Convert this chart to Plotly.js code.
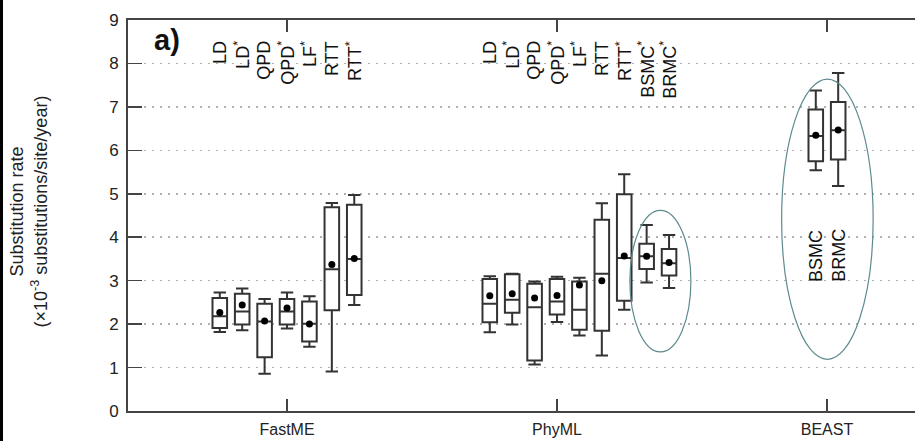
<!DOCTYPE html>
<html>
<head>
<meta charset="utf-8">
<script src="https://cdn.plot.ly/plotly-3.0.1.min.js"></script>
<style>
  html, body { margin: 0; padding: 0; background: #fff; }
  #wrap { position: relative; width: 915px; height: 441px; }
  #chart { width: 915px; height: 441px; }
  #edge { position: absolute; left: 0; top: 0; width: 3px; height: 441px; background: #000; }
</style>
</head>
<body>
<div id="wrap"><div id="chart"></div><div id="edge"></div></div>
<script>
// ---- Data (substitution rate, x10^-3 substitutions/site/year) ----
const groups = ["FastME", "PhyML", "BEAST"];

const fastmeMethods = ["LD", "LD*", "QPD", "QPD*", "LF*", "RTT", "RTT*"];
const fastmeLower  = [1.82, 1.86, 0.86, 1.90, 1.48, 0.91, 2.44];
const fastmeQ1     = [1.91, 1.99, 1.24, 1.99, 1.60, 2.32, 2.67];
const fastmeMedian = [2.18, 2.29, 2.06, 2.29, 2.01, 3.26, 3.50];
const fastmeQ3     = [2.60, 2.70, 2.47, 2.58, 2.52, 4.69, 4.75];
const fastmeUpper  = [2.73, 2.82, 2.58, 2.73, 2.64, 4.79, 4.97];
const fastmeMean   = [2.27, 2.44, 2.07, 2.37, 2.00, 3.37, 3.51];

const phymlMethods = ["LD", "LD*", "QPD", "QPD*", "LF*", "RTT", "RTT*", "BSMC*", "BRMC*"];
const phymlLower  = [1.81, 1.99, 1.07, 2.05, 1.74, 1.28, 2.33, 2.96, 2.83];
const phymlQ1     = [2.04, 2.26, 1.16, 2.22, 1.87, 1.85, 2.54, 3.27, 3.12];
const phymlMedian = [2.47, 2.56, 2.39, 2.52, 2.33, 3.16, 3.52, 3.56, 3.40];
const phymlQ3     = [3.04, 3.15, 2.93, 3.04, 2.98, 4.40, 4.99, 3.85, 3.73];
const phymlUpper  = [3.10, 3.16, 2.98, 3.09, 3.07, 4.78, 5.45, 4.28, 4.05];
const phymlMean   = [2.65, 2.70, 2.60, 2.66, 2.90, 3.00, 3.57, 3.56, 3.42];

const beastMethods = ["BSMC", "BRMC"];
const beastLower  = [5.54, 5.18];
const beastQ1     = [5.75, 5.79];
const beastMedian = [6.33, 6.46];
const beastQ3     = [6.94, 7.11];
const beastUpper  = [7.38, 7.78];
const beastMean   = [6.35, 6.47];

// ---- Layout helpers ----
const step = 0.083;      // spacing between adjacent boxes (x units)
const boxW = 0.054;      // box width (x units)
const font = "Liberation Sans, Arial, Helvetica, sans-serif";

const sets = [
  {g: 0, center: 3,   m: fastmeMethods, lo: fastmeLower, q1: fastmeQ1, med: fastmeMedian, q3: fastmeQ3, up: fastmeUpper, mean: fastmeMean, labelsTop: true},
  {g: 1, center: 3,   m: phymlMethods,  lo: phymlLower,  q1: phymlQ1,  med: phymlMedian,  q3: phymlQ3,  up: phymlUpper,  mean: phymlMean,  labelsTop: true},
  {g: 2, center: 0.5, m: beastMethods,  lo: beastLower,  q1: beastQ1,  med: beastMedian,  q3: beastQ3,  up: beastUpper,  mean: beastMean,  labelsTop: false}
];

const X = [], LO = [], Q1 = [], MED = [], Q3 = [], UP = [], MEAN = [];
const annotations = [];
sets.forEach(s => {
  s.m.forEach((name, i) => {
    const x = s.g + (i - s.center) * step;
    X.push(x); LO.push(s.lo[i]); Q1.push(s.q1[i]); MED.push(s.med[i]);
    Q3.push(s.q3[i]); UP.push(s.up[i]); MEAN.push(s.mean[i]);
    const txt = name.endsWith("*") ? name.slice(0, -1) + "<sup>*</sup>" : name;
    annotations.push({
      x: x, xref: "x",
      y: s.labelsTop ? 8.57 : 2.92, yref: "y",
      yanchor: s.labelsTop ? "top" : "bottom", xanchor: "center",
      text: txt, textangle: -90, showarrow: false,
      font: {family: font, size: 18, color: "#111"}
    });
  });
});

annotations.push({
  x: 0.049, xref: "paper", y: 0.95, yref: "paper",
  xanchor: "center", yanchor: "middle",
  text: "<b>a)</b>", showarrow: false,
  font: {family: font, size: 29, color: "#111"}
});
annotations.push({
  x: -0.126, xref: "paper", y: 0.51, yref: "paper",
  xanchor: "center", yanchor: "middle", textangle: -90,
  text: "Substitution rate<br>(×10<sup>-3</sup> substitutions/site/year)",
  showarrow: false,
  font: {family: font, size: 18, color: "#222"}
});

const boxTrace = {
  type: "box",
  x: X, lowerfence: LO, q1: Q1, median: MED, q3: Q3, upperfence: UP,
  width: boxW, whiskerwidth: 0.85,
  boxpoints: false, hoverinfo: "skip",
  fillcolor: "#ffffff",
  line: {color: "#333333", width: 2},
  showlegend: false
};
const meanTrace = {
  type: "scatter", mode: "markers",
  x: X, y: MEAN,
  marker: {color: "#000", size: 7},
  hoverinfo: "skip", showlegend: false
};

const layout = {
  width: 915, height: 441,
  margin: {l: 128, r: 0, t: 20, b: 30.3},
  paper_bgcolor: "#fff", plot_bgcolor: "#fff",
  showlegend: false,
  font: {family: font, color: "#222", size: 15},
  xaxis: {
    range: [-0.589, 2.326],
    tickvals: [0, 1, 2], ticktext: groups,
    ticks: "inside", ticklen: 12, tickwidth: 1.5, tickcolor: "#444",
    showline: true, linecolor: "#444", linewidth: 2, mirror: "ticks",
    showgrid: false, zeroline: false,
    tickfont: {family: font, size: 16, color: "#222"},
    ticklabelstandoff: 3
  },
  yaxis: {
    range: [0, 9], dtick: 1,
    ticks: "inside", ticklen: 14, tickwidth: 1.5, tickcolor: "#444",
    showline: true, linecolor: "#444", linewidth: 2, mirror: false,
    showgrid: true, gridcolor: "#b0b0b0", gridwidth: 1.5, griddash: "2px,6px",
    zeroline: false,
    tickfont: {family: font, size: 17, color: "#222"},
    ticklabelstandoff: 4
  },
  shapes: [
    {type: "circle", xref: "x", yref: "y", x0: 1.270, x1: 1.496, y0: 1.36, y1: 4.62,
     line: {color: "#5e8a8e", width: 1.2}, layer: "above"},
    {type: "circle", xref: "x", yref: "y", x0: 1.832, x1: 2.171, y0: 1.19, y1: 7.64,
     line: {color: "#5e8a8e", width: 1.2}, layer: "above"}
  ],
  annotations: annotations
};

Plotly.newPlot("chart", [boxTrace, meanTrace], layout, {displayModeBar: false, staticPlot: true});
</script>
</body>
</html>
